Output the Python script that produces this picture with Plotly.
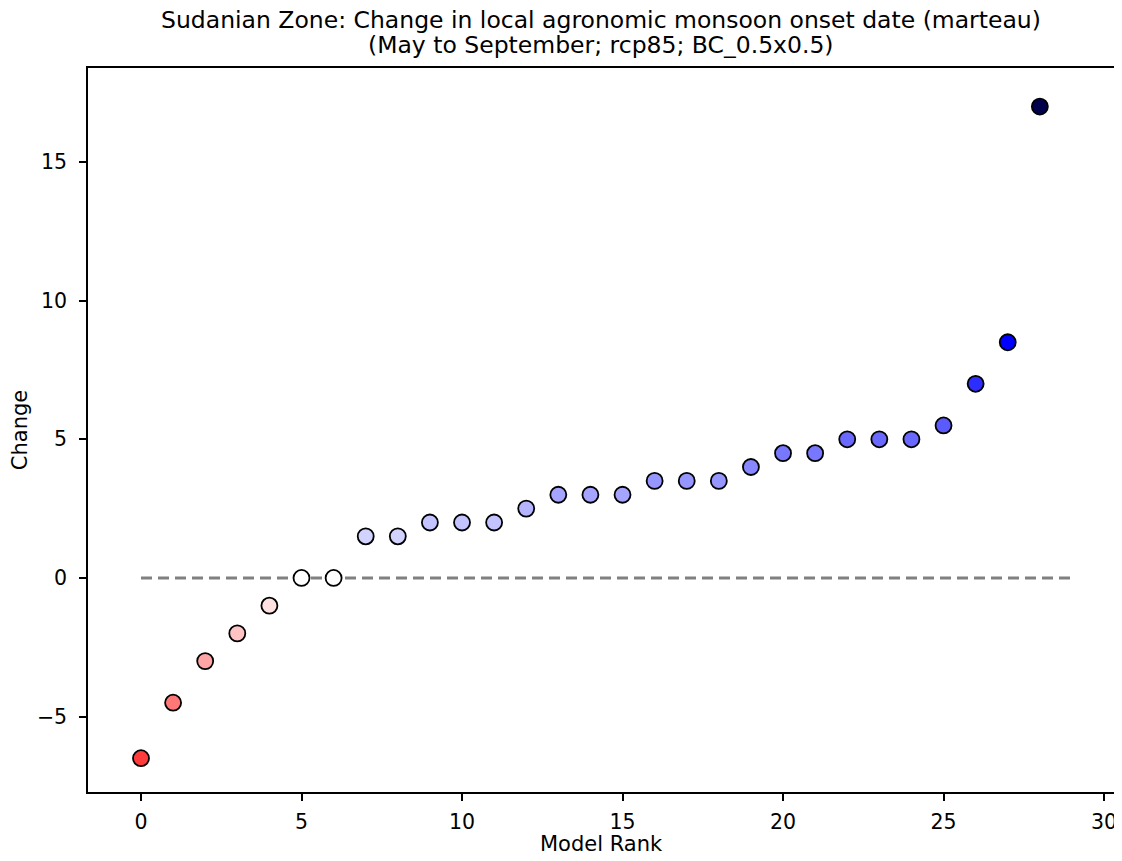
import plotly.graph_objects as go

rank = list(range(29))
change = [-6.5, -4.5, -3, -2, -1, 0, 0, 1.5, 1.5, 2, 2, 2, 2.5, 3, 3, 3, 3.5, 3.5, 3.5,
          4, 4.5, 4.5, 5, 5, 5, 5.5, 7, 8.5, 17]
line_x = [0, 29]
line_y = [0, 0]
title_line1 = "Sudanian Zone: Change in local agronomic monsoon onset date (marteau)"
title_line2 = "(May to September; rcp85; BC_0.5x0.5)"
x_label = "Model Rank"
y_label = "Change"

seismic_r = [[0.0, "rgb(128,0,0)"], [0.25, "rgb(255,0,0)"], [0.5, "rgb(255,255,255)"],
             [0.75, "rgb(0,0,255)"], [1.0, "rgb(0,0,77)"]]
vmax = max(abs(v) for v in change)

fig = go.Figure()
fig.add_trace(go.Scatter(x=line_x, y=line_y, mode="lines",
                         line=dict(color="gray", width=3, dash="11px,6px"),
                         showlegend=False, hoverinfo="skip"))
fig.add_trace(go.Scatter(x=rank, y=change, mode="markers",
                         marker=dict(size=16, color=change, colorscale=seismic_r,
                                     cmin=-vmax, cmax=vmax,
                                     line=dict(color="black", width=1.8)),
                         showlegend=False))

fam = "DejaVu Sans"
label_font = dict(family=fam, size=21, color="black")
tick_font = dict(family=fam, size=20.5, color="black")
fig.update_layout(
    width=1106, height=845,
    margin=dict(l=80, r=0, t=60, b=61),
    paper_bgcolor="white", plot_bgcolor="white",
    font=dict(family=fam, size=20, color="black"),
    xaxis=dict(range=[-1.651, 30.31], tickvals=[0, 5, 10, 15, 20, 25, 30],
               showline=True, linecolor="black", linewidth=1.5, mirror=True,
               ticks="outside", ticklen=7, tickwidth=1.5, tickcolor="black",
               showgrid=False, zeroline=False, ticklabelstandoff=4,
               ticklabeloverflow="allow", automargin=False,
               tickfont=tick_font),
    yaxis=dict(range=[-7.72, 18.39], tickvals=[-5, 0, 5, 10, 15],
               showline=True, linecolor="black", linewidth=1.5, mirror=True,
               ticks="outside", ticklen=7, tickwidth=1.5, tickcolor="black",
               showgrid=False, zeroline=False, ticklabelstandoff=8,
               automargin=False,
               tickfont=tick_font,
               title=dict(text=y_label, standoff=15, font=label_font)),
    annotations=[
        dict(text=title_line1, x=0.5, y=1.0663, xref="paper", yref="paper",
             xanchor="center", yanchor="middle", showarrow=False,
             font=dict(family=fam, size=23.5, color="black")),
        dict(text=title_line2, x=0.5, y=1.0318, xref="paper", yref="paper",
             xanchor="center", yanchor="middle", showarrow=False,
             font=dict(family=fam, size=23.5, color="black")),
        dict(text=x_label, x=0.5, y=-0.072, xref="paper", yref="paper",
             xanchor="center", yanchor="middle", showarrow=False,
             font=label_font),
    ],
)
fig.write_html("out.html")
